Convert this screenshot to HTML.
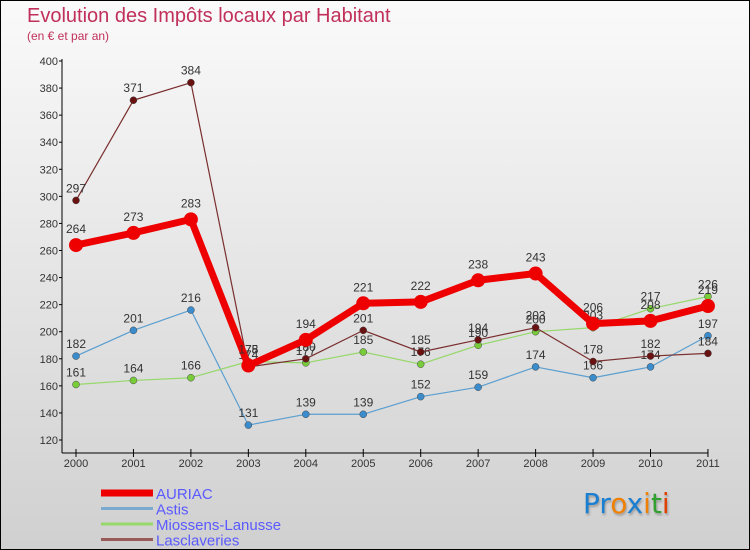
<!DOCTYPE html>
<html><head><meta charset="utf-8"><style>
body{margin:0}
#c{position:relative;width:750px;height:550px;box-sizing:border-box;border:1px solid #000;background:linear-gradient(#fafafa,#d0d0d0);font-family:"Liberation Sans",sans-serif;overflow:hidden}
.t{position:absolute;color:#c0305a}
</style></head><body>
<div id="c">
<div class="t" style="left:26px;top:4px;font-size:20px">Evolution des Impôts locaux par Habitant</div>
<div class="t" style="left:26px;top:28px;font-size:12px">(en € et par an)</div>
<svg id="s" width="750" height="550" style="position:absolute;left:0;top:0"></svg>
<div style="position:absolute;left:582px;top:486px;font-size:28px;font-family:'DejaVu Sans',sans-serif;text-shadow:1px 2px 2px #999"><span style="color:#1a7fd0">Pr</span><span style="color:#f08000">o</span><span style="color:#1a7fd0">x</span><span style="color:#f08000">i</span><span style="color:#30a030">t</span><span style="color:#e04000">i</span></div>
</div>
<script>
const years=[2000,2001,2002,2003,2004,2005,2006,2007,2008,2009,2010,2011];
const yTicks=[120,140,160,180,200,220,240,260,280,300,320,340,360,380,400];
const auriac=[264,273,283,175,194,221,222,238,243,206,208,219];
const astis=[182,201,216,131,139,139,152,159,174,166,174,197];
const miossens=[161,164,166,178,177,185,176,190,200,203,217,226];
const lasclav=[297,371,384,174,180,201,185,194,203,178,182,184];
const names=["AURIAC","Astis","Miossens-Lanusse","Lasclaveries"];
const NS="http://www.w3.org/2000/svg";
const s=document.getElementById('s');
const xS=i=>75+i*57.45;
const yS=v=>439-(v-120)*1.3536;
function el(t,a,p){const e=document.createElementNS(NS,t);for(const k in a)e.setAttribute(k,a[k]);(p||s).appendChild(e);return e;}
// axes
let ya=el('line',{x1:61,y1:58,x2:61,y2:452,stroke:'#000'});


let xa=el('line',{x1:61,y1:452,x2:707,y2:452,stroke:'#000'});


yTicks.forEach(v=>{
 el('line',{x1:58,x2:61,y1:yS(v),y2:yS(v),stroke:'#000'});
 const t=el('text',{x:57,y:yS(v)+4,'text-anchor':'end','font-size':11,fill:'#333'});t.textContent=v;
 
 
});
years.forEach((y,i)=>{
 el('line',{x1:xS(i),x2:xS(i),y1:448,y2:456,stroke:'#000'});
 const t=el('text',{x:xS(i),y:466,'text-anchor':'middle','font-size':11,fill:'#333'});t.textContent=y;
 
 
});
function series(d,col,w,r,pc,name){
 const g=el('g',{});
 
 
 el('polyline',{points:d.map((v,i)=>xS(i)+','+yS(v)).join(' '),fill:'none',stroke:col,'stroke-width':w,'stroke-linejoin':'round'},g);
 d.forEach((v,i)=>{
  const c=el('circle',{cx:xS(i),cy:yS(v),r:r,fill:pc,stroke:'#444','stroke-width':r>5?0:0.5},g);
  
  
  const t=el('text',{x:xS(i),y:yS(v)-(r>5?12:8),'text-anchor':'middle','font-size':12,fill:'#333'},g);t.textContent=v;
 });
}
series(astis,'#5b9fd0',1.2,3.5,'#3a8ccc','astis');
series(miossens,'#96d86a',1.2,3.5,'#78cc3a','miossens-lanusse');
series(lasclav,'#7a2e2e',1.2,3.5,'#6a1212','lasclaveries');
series(auriac,'#ee0000',7,7,'#ee0000','auriac');
// legend
const lc=['#ee0000','#7aaad0','#96d86a','#9a5a5a'],lw=[7,3,3,3];
names.forEach((n,i)=>{
 const y=492+i*15.5;
 const l=el('line',{x1:100,x2:152,y1:y,y2:y,stroke:lc[i],'stroke-width':lw[i]});
 
 
 const t=el('text',{x:155,y:y+6,'font-size':15,fill:'#5a5aff'});t.textContent=n;
 
 
});
</script>
</body></html>
